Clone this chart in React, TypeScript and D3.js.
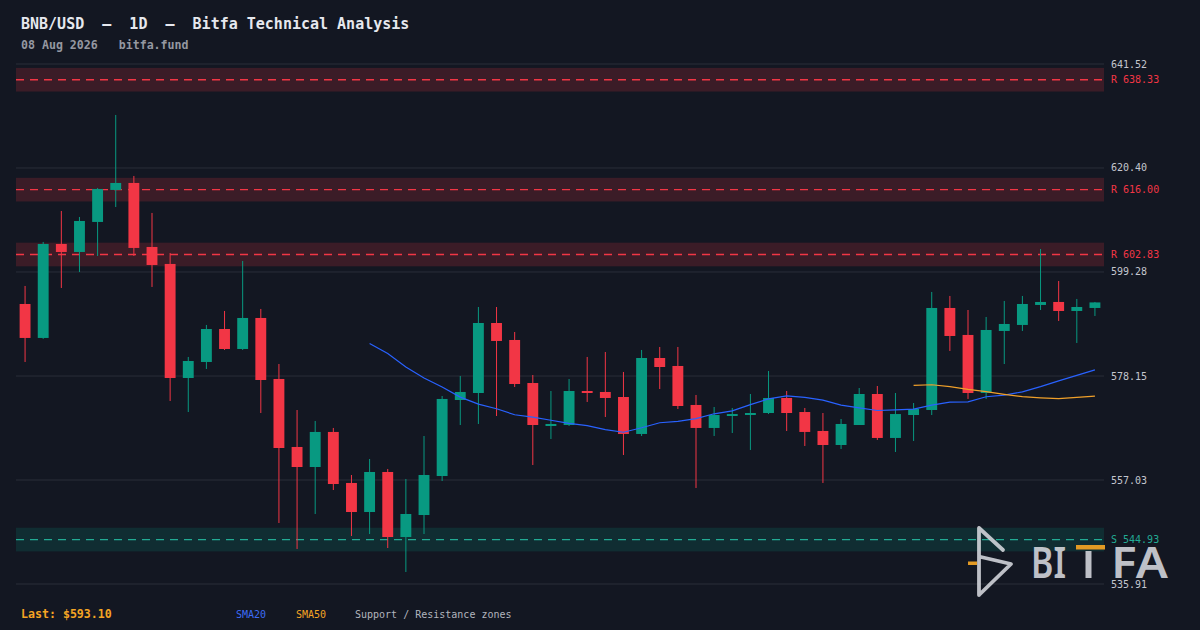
import React from "react";
import * as d3 from "d3";

// daily candles (60 sessions)
const opens = [
  592.78, 585.88, 604.97, 603.34, 609.44, 615.94, 617.36, 604.36, 600.91, 577.75,
  581.0, 587.7, 583.64, 589.94, 577.55, 563.74, 559.67, 566.79, 556.43, 550.53,
  558.66, 545.45, 549.92, 557.84, 573.28, 574.7, 588.92, 585.47, 576.73, 568.0,
  568.2, 575.11, 574.91, 573.89, 566.38, 581.81, 580.19, 572.27, 567.6, 570.03,
  570.23, 570.64, 573.69, 570.84, 566.99, 564.14, 568.2, 574.5, 565.57, 570.23,
  571.25, 591.97, 586.49, 574.7, 587.3, 588.52, 592.58, 593.19, 591.36, 591.97,
];
const highs = [
  596.44, 605.38, 611.67, 610.45, 616.34, 631.17, 618.78, 611.27, 603.14, 582.02,
  588.52, 591.36, 601.52, 591.77, 580.59, 571.25, 569.02, 567.6, 558.05, 561.3,
  559.27, 557.24, 565.97, 574.09, 578.16, 592.17, 592.17, 587.09, 578.36, 575.11,
  577.55, 582.02, 583.03, 578.97, 583.44, 584.05, 584.05, 574.3, 571.86, 571.66,
  574.5, 579.17, 575.11, 571.66, 570.64, 569.42, 575.72, 576.12, 574.7, 572.67,
  595.22, 594.41, 591.56, 590.14, 593.39, 594.41, 603.95, 597.45, 593.8, 593.19,
];
const lows = [
  581.0, 585.7, 596.03, 599.28, 602.53, 612.48, 602.53, 596.24, 573.08, 570.84,
  579.58, 583.44, 583.44, 570.64, 548.3, 543.02, 550.13, 555.0, 545.66, 546.06,
  543.22, 538.35, 546.06, 556.83, 568.2, 568.41, 570.03, 575.92, 560.08, 565.36,
  568.0, 572.88, 569.83, 562.11, 565.97, 575.51, 571.45, 555.41, 565.97, 566.58,
  563.13, 570.43, 566.99, 563.94, 556.43, 563.33, 568.2, 565.16, 562.72, 564.96,
  570.23, 583.24, 573.49, 573.49, 580.59, 587.3, 591.56, 589.33, 584.86, 590.34,
];
const closes = [
  585.88, 604.97, 603.34, 609.64, 616.14, 617.36, 604.16, 600.7, 577.75, 581.2,
  587.7, 583.64, 589.94, 577.34, 563.53, 559.67, 566.79, 556.22, 550.53, 558.66,
  545.45, 550.13, 558.05, 573.49, 574.91, 588.92, 585.27, 576.53, 568.2, 568.41,
  575.11, 574.7, 573.69, 566.38, 581.81, 579.98, 572.06, 567.6, 570.23, 570.43,
  570.64, 573.69, 570.64, 566.79, 564.14, 568.41, 574.5, 565.57, 570.43, 571.45,
  591.97, 586.28, 574.7, 587.5, 588.72, 592.78, 593.19, 591.36, 592.17, 593.1,
];

const priceTicks = [535.91, 557.03, 578.15, 599.28, 620.4, 641.52];
const resistances = [638.33, 616.0, 602.83];
const supports = [544.93];
const zoneHalf = 2.4;

const W = 1200;
const H = 630;
const left = 16;
const right = 1104;
const top = 64;
const bottom = 584;

const up = "#089981";
const down = "#f23645";
const mono = "'DejaVu Sans Mono', monospace";

function sma(n: number) {
  const out: { i: number; v: number }[] = [];
  for (let i = n - 1; i < closes.length; i++) {
    out.push({ i, v: d3.mean(closes.slice(i - n + 1, i + 1)) as number });
  }
  return out;
}

export default function App() {
  const x = d3
    .scaleBand<number>()
    .domain(d3.range(closes.length))
    .range([left, right])
    .paddingInner(0.4)
    .paddingOuter(0.2);
  const y = d3.scaleLinear().domain([priceTicks[0], priceTicks[5]]).range([bottom, top]);
  const cx = (i: number) => (x(i) as number) + x.bandwidth() / 2;

  const line = d3
    .line<{ i: number; v: number }>()
    .x((d) => cx(d.i))
    .y((d) => y(d.v));

  const sma20 = sma(20);
  const sma50 = sma(50);

  return (
    <div style={{ position: "fixed", left: 0, top: 0 }}>
      <svg width={W} height={H} style={{ display: "block", background: "#131722" }}>
        <rect width={W} height={H} fill="#131722" />

        {/* title */}
        <text x={21} y={29} fill="#e6e8ee" fontFamily={mono} fontSize={15} fontWeight="bold" style={{ whiteSpace: "pre" }}>
          {"BNB/USD  —  1D  —  Bitfa Technical Analysis"}
        </text>
        <text x={21} y={49} fill="#9598a1" fontFamily={mono} fontSize={11.6} fontWeight="bold" style={{ whiteSpace: "pre" }}>
          {"08 Aug 2026   bitfa.fund"}
        </text>

        {/* grid */}
        {priceTicks.map((t) => (
          <g key={t}>
            <line x1={left} x2={right} y1={y(t)} y2={y(t)} stroke="#2a2e39" strokeWidth={1} />
            <text x={1111} y={y(t)} dominantBaseline="central" fill="#c3c6ce" fontFamily={mono} fontSize={10}>
              {t.toFixed(2)}
            </text>
          </g>
        ))}

        {/* zones */}
        {resistances.map((r) => (
          <g key={"r" + r}>
            <rect x={left} width={right - left} y={y(r + zoneHalf)} height={y(r - zoneHalf) - y(r + zoneHalf)} fill="rgba(242,54,69,0.18)" />
            <line x1={left} x2={right} y1={y(r)} y2={y(r)} stroke={down} strokeWidth={1.4} strokeDasharray="8,6" />
            <text x={1111} y={y(r)} dominantBaseline="central" fill={down} fontFamily={mono} fontSize={10}>
              {"R " + r.toFixed(2)}
            </text>
          </g>
        ))}
        {supports.map((s) => (
          <g key={"s" + s}>
            <rect x={left} width={right - left} y={y(s + zoneHalf)} height={y(s - zoneHalf) - y(s + zoneHalf)} fill="rgba(8,153,129,0.17)" />
            <line x1={left} x2={right} y1={y(s)} y2={y(s)} stroke="#22ab94" strokeWidth={1.4} strokeDasharray="8,6" />
            <text x={1111} y={y(s)} dominantBaseline="central" fill="#22ab94" fontFamily={mono} fontSize={10}>
              {"S " + s.toFixed(2)}
            </text>
          </g>
        ))}

        {/* candles */}
        {closes.map((c, i) => {
          const o = opens[i];
          const col = c >= o ? up : down;
          const yt = y(Math.max(o, c));
          const yb = y(Math.min(o, c));
          return (
            <g key={i}>
              <line x1={cx(i)} x2={cx(i)} y1={y(highs[i])} y2={y(lows[i])} stroke={col} strokeWidth={1} />
              <rect x={x(i)} width={x.bandwidth()} y={yt} height={Math.max(1, yb - yt)} fill={col} />
            </g>
          );
        })}

        {/* moving averages */}
        <path d={line(sma20) as string} fill="none" stroke="#2962ff" strokeWidth={1.2} />
        <path d={line(sma50) as string} fill="none" stroke="#f0a02a" strokeWidth={1.2} />

        {/* watermark */}
        <g opacity={0.88} stroke="#d6d8de" strokeWidth={3.8} strokeLinecap="round" strokeLinejoin="round" fill="none">
          <path d="M979,528 L979,595 M979,528 L1003,550 M981,557 L1011,564 L979,595" />
        </g>
        <rect x={968} y={561.5} width={9} height={3.5} fill="#e39a24" />
        <g opacity={0.88} fill="#d6d8de">
          <text x={1031} y={578} fontFamily="'Noto Sans', sans-serif" fontSize={43} fontWeight={600} textLength={35} lengthAdjust="spacingAndGlyphs">BI</text>
          <rect x={1085.5} y={551} width={6} height={27} fill="#d6d8de" />
          <text x={1111} y={578} fontFamily="'Noto Sans', sans-serif" fontSize={43} fontWeight={600} textLength={57} lengthAdjust="spacingAndGlyphs">FA</text>
        </g>
        <rect x={1076} y={545} width={29} height={4.5} fill="#e39a24" />

        {/* footer */}
        <text x={21} y={618} fill="#f5a524" fontFamily={mono} fontSize={11.6} fontWeight="bold">
          Last: ${closes[closes.length - 1].toFixed(2)}
        </text>
        <text x={236} y={618} fill="#3d6cf5" fontFamily={mono} fontSize={10}>SMA20</text>
        <text x={296} y={618} fill="#f5a524" fontFamily={mono} fontSize={10}>SMA50</text>
        <text x={355} y={618} fill="#b2b5be" fontFamily={mono} fontSize={10}>Support / Resistance zones</text>
      </svg>
    </div>
  );
}
